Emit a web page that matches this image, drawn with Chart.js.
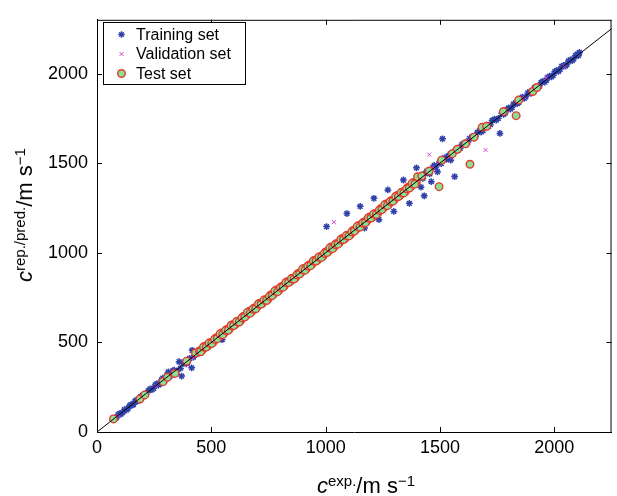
<!DOCTYPE html>
<html>
<head>
<meta charset="utf-8">
<script src="https://cdn.jsdelivr.net/npm/chart.js@4.4.1/dist/chart.umd.min.js"></script>
<style>
  html, body { margin: 0; padding: 0; background: #fff; }
  #wrap { position: relative; width: 617px; height: 496px; font-family: "Liberation Sans", Arial, sans-serif; }
  canvas { position: absolute; left: 0; top: 0; }
  .title { position: absolute; left: 0; top: 0; white-space: nowrap; font-size: 22px; line-height: 22px; color: #000; transform-origin: 0 0; }
  .title i { font-style: italic; }
  .title .sup { position: relative; top: -0.5em; font-size: 15px; }
</style>
</head>
<body>
<div id="wrap">
  <canvas id="chart" width="617" height="496"></canvas>
  <div class="title" id="xTitle"><i>c</i><span class="sup">exp.</span>/m s<span class="sup">&minus;1</span></div>
  <div class="title" id="yTitle"><i>c</i><span class="sup">rep./pred.</span>/m s<span class="sup">&minus;1</span></div>
</div>
<script>
// axis ticks
const xTicks = [0, 500, 1000, 1500, 2000];
const yTicks = [0, 500, 1000, 1500, 2000];
const xMax = 2250;
const yMax = 2300;

// [c exp., c rep./pred.]
const trainingSet = [
  [80, 78], [85, 80], [92, 96], [98, 102], [105, 100], [112, 108], [120, 125], [128, 122],
  [135, 130], [142, 146], [148, 152], [155, 150], [160, 155], [166, 172], [172, 178], [178, 172],
  [185, 180], [192, 198], [200, 206], [208, 202], [215, 210], [224, 230], [232, 240], [240, 236],
  [248, 244], [255, 262], [262, 270], [268, 262], [275, 268], [282, 290], [288, 300], [294, 286],
  [300, 292], [306, 318], [312, 335], [318, 310], [325, 318], [332, 342], [338, 345], [344, 336],
  [350, 340], [359, 392], [365, 355], [370, 312], [378, 385], [384, 390], [390, 380], [396, 388],
  [405, 410], [414, 358], [416, 456], [422, 418], [428, 432], [440, 436], [455, 462], [470, 465],
  [485, 492], [500, 496], [512, 520], [528, 522], [547, 515], [545, 552], [560, 568], [578, 572],
  [595, 600], [610, 605], [628, 635], [645, 640], [660, 668], [678, 672], [695, 700], [712, 708],
  [730, 738], [748, 742], [765, 770], [782, 778], [800, 806], [818, 812], [835, 842], [852, 848],
  [870, 876], [888, 882], [905, 912], [922, 918], [940, 946], [958, 952], [975, 982], [990, 985],
  [1004, 1146], [1010, 1012], [1028, 1022], [1045, 1052], [1060, 1055], [1078, 1085], [1093, 1219],
  [1095, 1090], [1112, 1120], [1128, 1122], [1145, 1152], [1151, 1259], [1160, 1155], [1170, 1138],
  [1178, 1186], [1195, 1190], [1211, 1304], [1212, 1220], [1228, 1222], [1233, 1185], [1245, 1252],
  [1262, 1258], [1272, 1351], [1278, 1288], [1295, 1290], [1298, 1231], [1310, 1320], [1325, 1318],
  [1340, 1406], [1340, 1348], [1355, 1362], [1366, 1276], [1372, 1380], [1388, 1395], [1397, 1474],
  [1402, 1408], [1410, 1420], [1417, 1366], [1420, 1430], [1425, 1415], [1431, 1318], [1435, 1442],
  [1442, 1455], [1450, 1460], [1455, 1440], [1462, 1397], [1468, 1475], [1475, 1488], [1482, 1478],
  [1489, 1452], [1498, 1506], [1505, 1498], [1511, 1636], [1512, 1520], [1520, 1530], [1528, 1522],
  [1535, 1540], [1547, 1517], [1545, 1552], [1555, 1560], [1564, 1425], [1570, 1578], [1578, 1572],
  [1588, 1582], [1596, 1604], [1605, 1612], [1614, 1606], [1622, 1618], [1630, 1638], [1640, 1648],
  [1648, 1640], [1655, 1650], [1664, 1672], [1672, 1680], [1680, 1674], [1688, 1682], [1696, 1704],
  [1705, 1712], [1712, 1706], [1720, 1715], [1728, 1738], [1738, 1745], [1746, 1740], [1755, 1750],
  [1762, 1666], [1770, 1778], [1778, 1772], [1785, 1780], [1792, 1800], [1800, 1808], [1808, 1802],
  [1815, 1810], [1822, 1830], [1830, 1836], [1838, 1832], [1845, 1840], [1852, 1860], [1860, 1868],
  [1868, 1862], [1875, 1870], [1884, 1892], [1892, 1898], [1898, 1890], [1905, 1902], [1912, 1920],
  [1920, 1926], [1928, 1922], [1935, 1930], [1942, 1950], [1950, 1958], [1958, 1952], [1965, 1962],
  [1972, 1980], [1980, 1986], [1988, 1982], [1995, 1990], [2002, 2010], [2010, 2018], [2018, 2012],
  [2025, 2022], [2032, 2040], [2040, 2046], [2048, 2042], [2055, 2050], [2062, 2070], [2070, 2076],
  [2078, 2072], [2085, 2082], [2092, 2100], [2100, 2108], [2105, 2100], [2110, 2118]
];

const validationSet = [
  [95, 92], [180, 185], [260, 255], [330, 338], [420, 415], [505, 510], [590, 585], [680, 686],
  [760, 755], [850, 856], [935, 930], [1036, 1171], [1050, 1045], [1130, 1138], [1215, 1210],
  [1300, 1306], [1385, 1380], [1453, 1548], [1470, 1476], [1540, 1535], [1620, 1626], [1699, 1574],
  [1710, 1705], [1790, 1796], [1868, 1867], [1964, 1977], [2045, 2040]
];

const testSet = [
  [72, 73], [188, 184], [209, 207], [289, 281], [308, 305], [341, 327], [392, 395], [431, 441],
  [448, 452], [460, 457], [472, 479], [484, 479], [496, 498], [508, 502], [520, 525], [532, 530],
  [544, 552], [556, 552], [568, 572], [580, 577], [592, 599], [604, 599], [616, 618], [628, 622],
  [640, 645], [652, 650], [664, 672], [676, 672], [688, 692], [700, 697], [712, 719], [724, 719],
  [736, 738], [748, 742], [760, 765], [772, 770], [784, 792], [796, 792], [808, 812], [820, 817],
  [832, 839], [844, 839], [856, 858], [868, 862], [880, 885], [892, 890], [904, 912], [916, 912],
  [928, 932], [940, 937], [952, 959], [964, 959], [976, 978], [988, 982], [1000, 1005], [1012, 1010],
  [1024, 1032], [1036, 1032], [1048, 1052], [1060, 1057], [1072, 1079], [1084, 1079], [1096, 1098],
  [1108, 1102], [1120, 1125], [1132, 1130], [1144, 1152], [1156, 1152], [1168, 1172], [1180, 1177],
  [1192, 1199], [1204, 1199], [1216, 1218], [1228, 1222], [1240, 1245], [1252, 1250], [1264, 1272],
  [1276, 1272], [1288, 1292], [1300, 1297], [1312, 1319], [1324, 1319], [1336, 1338], [1348, 1342],
  [1360, 1365], [1372, 1370], [1384, 1392], [1396, 1392],
  [454, 448], [466, 474], [478, 474], [490, 496], [502, 494], [514, 517], [526, 521], [538, 547],
  [550, 543], [562, 566], [574, 568], [586, 594], [598, 594], [610, 616], [622, 614], [634, 637],
  [646, 641], [658, 667], [670, 663], [682, 686], [694, 688], [706, 714], [718, 714], [730, 736],
  [742, 734], [754, 757], [766, 761], [778, 787], [790, 783], [802, 806], [814, 808], [826, 834],
  [838, 834], [850, 856], [862, 854], [874, 877], [886, 881], [898, 907], [910, 903], [922, 926],
  [934, 928], [946, 954], [958, 954], [970, 976], [982, 974], [994, 997], [1006, 1001], [1018, 1027],
  [1030, 1023], [1042, 1046], [1054, 1048], [1066, 1074], [1078, 1074], [1090, 1096], [1102, 1094],
  [1114, 1117], [1126, 1121], [1138, 1147], [1150, 1143], [1162, 1166], [1174, 1168], [1186, 1194],
  [1198, 1194], [1210, 1216], [1222, 1214], [1234, 1237], [1246, 1241], [1258, 1267], [1270, 1263],
  [1282, 1286], [1294, 1288], [1306, 1314], [1318, 1314], [1330, 1336], [1342, 1334], [1354, 1357],
  [1366, 1361], [1378, 1387], [1390, 1383],
  [1402, 1424], [1420, 1428], [1453, 1456], [1496, 1369], [1507, 1517], [1554, 1553], [1576, 1577],
  [1612, 1608], [1631, 1494], [1649, 1645], [1684, 1700], [1704, 1706], [1777, 1788], [1833, 1765],
  [1844, 1852], [1906, 1900], [1924, 1922]
];

// y = x reference line
const idealLine = [[0, 0], [2300, 2300]];

const toXY = arr => arr.map(p => ({ x: p[0], y: p[1] }));

const BLUE = 'rgb(48, 66, 170)';
const MAGENTA = 'rgb(205, 70, 205)';
const GREEN = 'rgb(140, 222, 150)';
const RED = 'rgb(226, 60, 45)';
const FONT = '"Liberation Sans", Arial, sans-serif';

// ticks inside the box + the top/right frame lines, like the original
const boxPlugin = {
  id: 'box',
  afterDraw(chart) {
    const { ctx, chartArea: a, scales } = chart;
    ctx.save();
    ctx.strokeStyle = '#000';
    ctx.lineWidth = 1;
    ctx.beginPath();
    ctx.moveTo(a.left, a.top + 0.5);
    ctx.lineTo(a.right, a.top + 0.5);
    ctx.moveTo(a.right - 0.5, a.top);
    ctx.lineTo(a.right - 0.5, a.bottom);
    const len = 5;
    xTicks.forEach(v => {
      const px = Math.round(scales.x.getPixelForValue(v)) + 0.5;
      ctx.moveTo(px, a.bottom); ctx.lineTo(px, a.bottom - len);
      ctx.moveTo(px, a.top); ctx.lineTo(px, a.top + len);
    });
    yTicks.forEach(v => {
      const py = Math.round(scales.y.getPixelForValue(v)) + 0.5;
      ctx.moveTo(a.left, py); ctx.lineTo(a.left + len, py);
      ctx.moveTo(a.right, py); ctx.lineTo(a.right - len, py);
    });
    ctx.stroke();
    ctx.restore();
  }
};

// legend box inside the plot, top left
const legendPlugin = {
  id: 'boxLegend',
  afterDraw(chart) {
    const { ctx } = chart;
    const items = [
      { text: 'Training set', style: 'star', radius: 3.2, stroke: BLUE, fill: BLUE, bw: 1.4 },
      { text: 'Validation set', style: 'crossRot', radius: 2.8, stroke: MAGENTA, fill: MAGENTA, bw: 1 },
      { text: 'Test set', style: 'circle', radius: 3.8, stroke: RED, fill: GREEN, bw: 1.4 }
    ];
    ctx.save();
    ctx.fillStyle = '#fff';
    ctx.fillRect(103.5, 22.5, 142, 62);
    ctx.strokeStyle = '#000';
    ctx.lineWidth = 1;
    ctx.strokeRect(103.5, 22.5, 142, 62);
    ctx.font = '16px ' + FONT;
    ctx.textBaseline = 'middle';
    items.forEach((it, i) => {
      const y = 34.5 + i * 19.5;
      ctx.fillStyle = it.fill;
      ctx.strokeStyle = it.stroke;
      ctx.lineWidth = it.bw;
      Chart.helpers.drawPoint(ctx, { pointStyle: it.style, radius: it.radius, borderWidth: it.bw, rotation: 0 }, 121.5, y);
      ctx.fillStyle = '#000';
      ctx.fillText(it.text, 136, y + 1);
    });
    ctx.restore();
  }
};

new Chart(document.getElementById('chart'), {
  type: 'scatter',
  data: {
    datasets: [
      {
        label: 'y = x',
        data: toXY(idealLine),
        showLine: true,
        borderColor: '#000',
        borderWidth: 1,
        pointRadius: 0,
        order: 0
      },
      {
        label: 'Test set',
        data: toXY(testSet),
        pointStyle: 'circle',
        pointRadius: 3.8,
        backgroundColor: GREEN,
        borderColor: RED,
        borderWidth: 1.4,
        order: 1
      },
      {
        label: 'Validation set',
        data: toXY(validationSet),
        pointStyle: 'crossRot',
        pointRadius: 2.8,
        borderColor: MAGENTA,
        borderWidth: 1,
        order: 2
      },
      {
        label: 'Training set',
        data: toXY(trainingSet),
        pointStyle: 'star',
        pointRadius: 3.4,
        borderColor: BLUE,
        backgroundColor: BLUE,
        borderWidth: 1.5,
        order: 3
      }
    ]
  },
  options: {
    responsive: false,
    animation: false,
    devicePixelRatio: 1,
    events: [],
    layout: { padding: { top: 15, right: 2, left: 0, bottom: 0 } },
    plugins: {
      legend: { display: false },
      tooltip: { enabled: false }
    },
    scales: {
      x: {
        type: 'linear',
        min: 0,
        max: xMax,
        afterBuildTicks: s => { s.ticks = xTicks.map(v => ({ value: v })); },
        afterFit: s => { s.height = 64; },
        grid: { display: false, drawTicks: false },
        border: { display: true, color: '#000', width: 1 },
        ticks: { color: '#000', padding: 5, font: { family: FONT, size: 18 }, callback: v => String(v) }
      },
      y: {
        type: 'linear',
        min: 0,
        max: yMax,
        afterBuildTicks: s => { s.ticks = yTicks.map(v => ({ value: v })); },
        afterFit: s => { s.width = 97; },
        grid: { display: false, drawTicks: false },
        border: { display: true, color: '#000', width: 1 },
        ticks: { color: '#000', padding: 9, font: { family: FONT, size: 18 }, callback: v => String(v) }
      }
    }
  },
  plugins: [boxPlugin, legendPlugin]
});

// axis titles with superscripts, placed under / beside the axes
document.getElementById('xTitle').style.transform = 'translate(366px, 475px) translateX(-50%)';
document.getElementById('yTitle').style.transform = 'translate(14px, 215px) rotate(-90deg) translateX(-50%)';
</script>
</body>
</html>
